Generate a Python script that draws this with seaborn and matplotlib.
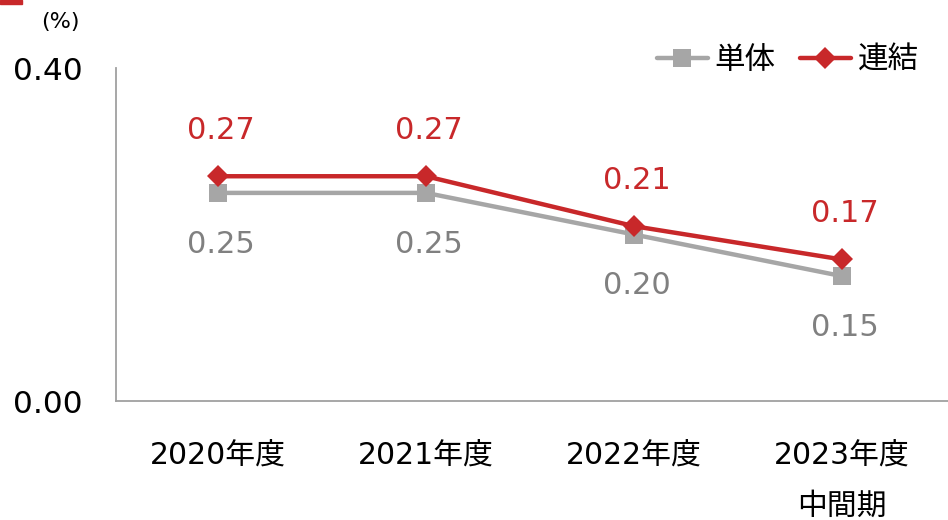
import pandas as pd
import seaborn as sns
import matplotlib.pyplot as plt
from matplotlib.patches import Rectangle

categories = ['2020年度', '2021年度', '2022年度', '2023年度\n中間期']
tantai = [0.25, 0.25, 0.20, 0.15]
renketsu = [0.27, 0.27, 0.21, 0.17]
yticks = [0.00, 0.40]

sns.set_theme(style='white')
plt.rcParams['font.family'] = ['DejaVu Sans', 'Noto Sans CJK JP']
plt.rcParams['text.color'] = 'black'
plt.rcParams['xtick.color'] = 'black'
plt.rcParams['ytick.color'] = 'black'

gray = '#A6A6A6'
red = '#C8282A'

fig = plt.figure(figsize=(9.48, 5.2), dpi=100)
ax = fig.add_axes([0.1224, 0.2288, 0.88, 0.6404])

df = pd.DataFrame({'cat': categories * 2,
                   'val': tantai + renketsu,
                   'series': ['単体'] * 4 + ['連結'] * 4})

sns.lineplot(data=df[df.series == '単体'], x='cat', y='val', color=gray, lw=3.2,
             marker='s', markersize=13, markeredgewidth=0, label='単体', ax=ax, sort=False)
sns.lineplot(data=df[df.series == '連結'], x='cat', y='val', color=red, lw=3.2,
             marker='D', markersize=11, markeredgewidth=0, label='連結', ax=ax, sort=False)

for i, (a, b) in enumerate(zip(tantai, renketsu)):
    ax.annotate(f'{a:.2f}', (i, a), xytext=(2, -37), textcoords='offset points',
                ha='center', va='center', fontsize=22, color='#808080')
    ax.annotate(f'{b:.2f}', (i, b), xytext=(2, 33), textcoords='offset points',
                ha='center', va='center', fontsize=22, color=red)

ax.set_xlim(-0.49, 3.52)
ax.set_ylim(0, 0.40)
ax.set_yticks(yticks)
ax.set_yticklabels([f'{v:.2f}' for v in yticks], fontsize=22.5)
ax.tick_params(axis='y', pad=24, length=0)
ax.tick_params(axis='x', pad=29, length=0)
for lab in ax.get_xticklabels():
    lab.set_fontsize(21.5)
    lab.set_linespacing(1.95)
ax.set_xlabel('')
ax.set_ylabel('')
for s in ['top', 'right']:
    ax.spines[s].set_visible(False)
for s in ['left', 'bottom']:
    ax.spines[s].set_color('#A0A0A0')
    ax.spines[s].set_linewidth(1.3)

leg = ax.legend(loc='upper right', bbox_to_anchor=(0.995, 1.15), ncol=2, frameon=False,
                fontsize=22, handlelength=1.65, handletextpad=0.23, columnspacing=0.8)

fig.text(0.064, 0.957, '(%)', fontsize=16, ha='center', va='center')
fig.patches.append(Rectangle((0, 0.992), 0.023, 0.008, transform=fig.transFigure,
                             color=red, figure=fig))

fig.savefig('out.png', dpi=100)
